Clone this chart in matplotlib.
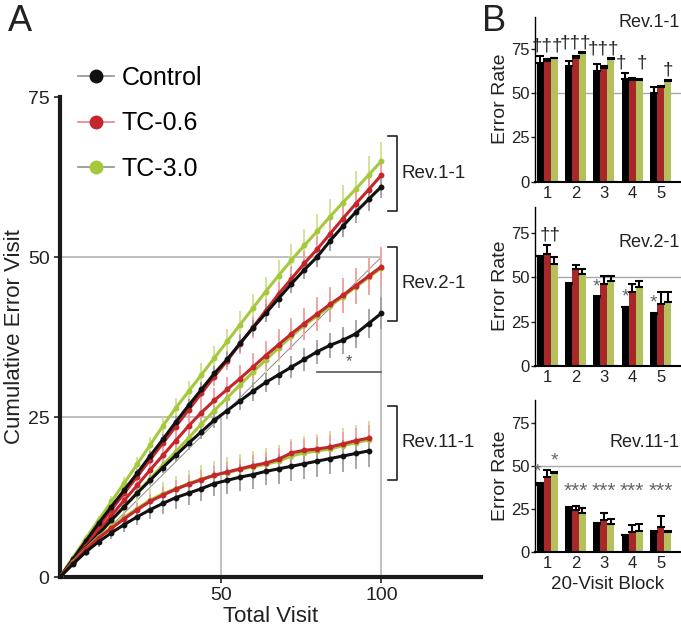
import numpy as np
import matplotlib
matplotlib.use('Agg')
import matplotlib.pyplot as plt
from matplotlib.lines import Line2D

plt.rcParams['font.family'] = ['Liberation Sans', 'DejaVu Sans']

#%% データ（パネルA：4訪問ごとの累積エラー数）
visit = [0, 4, 8, 12, 16, 20, 24, 28, 32, 36, 40, 44, 48, 52, 56, 60, 64, 68, 72, 76, 80, 84, 88, 92, 96, 100]
visit_11 = visit[:-1]

rev1_control = [0, 2.8, 5.6, 8.4, 11.0, 13.6, 16.2, 18.9, 21.5, 24.2, 26.8, 29.3, 31.8, 34.0, 36.5, 38.9,
                41.2, 43.5, 45.8, 48.0, 50.0, 52.5, 54.8, 57.0, 59.0, 61.0]
rev1_tc06 = [0, 2.6, 5.3, 7.9, 10.5, 13.1, 15.7, 18.3, 20.9, 23.5, 26.1, 28.7, 31.3, 33.8, 36.4, 39.0,
             41.6, 44.2, 46.6, 49.0, 51.2, 53.6, 56.0, 58.3, 60.5, 62.8]
rev1_tc30 = [0, 3.0, 6.0, 8.9, 11.8, 14.7, 17.6, 20.6, 23.6, 26.4, 29.0, 31.6, 34.2, 36.8, 39.4, 42.0,
             44.6, 47.1, 49.5, 51.8, 54.0, 56.3, 58.5, 60.6, 62.8, 65.0]
rev1_control_se = [0, 0.2, 0.3, 0.4, 0.5, 0.6, 0.7, 0.8, 0.9, 1.0, 1.0, 1.1, 1.2, 1.2, 1.3, 1.3, 1.4, 1.4, 1.5, 1.5,
                   1.6, 1.6, 1.7, 1.7, 1.8, 1.8]
rev1_tc06_se = [0, 0.2, 0.4, 0.5, 0.6, 0.7, 0.8, 0.9, 1.0, 1.1, 1.2, 1.3, 1.4, 1.5, 1.6, 1.7, 1.8, 1.9, 2.0, 2.0,
                2.1, 2.2, 2.2, 2.3, 2.3, 2.4]
rev1_tc30_se = [0, 0.3, 0.5, 0.7, 0.8, 1.0, 1.1, 1.3, 1.4, 1.5, 1.7, 1.8, 1.9, 2.0, 2.1, 2.2, 2.3, 2.4, 2.5, 2.6,
                2.7, 2.8, 2.8, 2.9, 3.0, 3.0]

rev2_control = [0, 2.3, 4.5, 6.7, 8.9, 11.0, 13.1, 15.1, 17.1, 19.0, 20.9, 22.7, 24.5, 26.0, 27.5, 29.0,
                30.4, 31.6, 32.8, 34.0, 35.2, 36.2, 37.0, 38.0, 39.6, 41.2]
rev2_tc06 = [0, 2.4, 4.8, 7.2, 9.6, 12.0, 14.3, 16.7, 19.0, 21.3, 23.6, 25.7, 27.6, 29.3, 31.0, 32.8,
             34.6, 36.3, 38.0, 39.6, 41.1, 42.6, 44.0, 45.5, 47.0, 48.5]
rev2_tc30 = [0, 2.2, 4.4, 6.6, 8.8, 11.0, 13.2, 15.3, 17.5, 19.6, 21.7, 23.9, 26.0, 28.0, 30.0, 32.0,
             33.9, 35.8, 37.6, 39.3, 40.8, 42.3, 43.8, 45.3, 46.8, 48.3]
rev2_control_se = [0, 0.2, 0.3, 0.4, 0.5, 0.6, 0.7, 0.8, 0.9, 1.0, 1.1, 1.1, 1.2, 1.3, 1.4, 1.5, 1.5, 1.6, 1.7, 1.8,
                   1.9, 2.0, 2.1, 2.2, 2.3, 2.5]
rev2_tc06_se = [0, 0.3, 0.5, 0.7, 0.9, 1.0, 1.2, 1.3, 1.5, 1.6, 1.7, 1.8, 1.9, 2.0, 2.1, 2.2, 2.3, 2.4, 2.5, 2.5,
                2.6, 2.7, 2.7, 2.8, 2.9, 3.0]
rev2_tc30_se = [0, 0.2, 0.4, 0.6, 0.7, 0.9, 1.0, 1.1, 1.3, 1.4, 1.5, 1.6, 1.7, 1.8, 1.9, 2.0, 2.1, 2.2, 2.2, 2.3,
                2.4, 2.4, 2.5, 2.6, 2.6, 2.7]

rev11_control = [0, 2.0, 3.9, 5.5, 6.9, 8.2, 9.4, 10.5, 11.5, 12.4, 13.1, 13.8, 14.6, 15.1, 15.6, 16.0,
                 16.5, 16.9, 17.3, 17.7, 18.1, 18.5, 18.9, 19.3, 19.7]
rev11_tc06 = [0, 2.2, 4.3, 6.1, 7.6, 9.1, 10.5, 11.8, 12.8, 13.7, 14.5, 15.2, 15.9, 16.4, 16.9, 17.4,
              17.8, 18.4, 19.4, 19.8, 20.0, 20.3, 20.8, 21.3, 21.7]
rev11_tc30 = [0, 2.3, 4.4, 6.3, 7.8, 9.3, 10.7, 12.0, 13.0, 13.8, 14.6, 15.3, 15.9, 16.3, 16.8, 17.2,
              17.6, 18.1, 18.9, 19.4, 19.7, 20.0, 20.5, 21.0, 21.4]
rev11_control_se = [0, 0.3, 0.6, 0.8, 1.0, 1.2, 1.3, 1.5, 1.6, 1.7, 1.8, 1.9, 2.0, 2.1, 2.1, 2.2, 2.2, 2.3, 2.3,
                    2.4, 2.4, 2.4, 2.5, 2.5, 2.5]
rev11_tc06_se = [0, 0.3, 0.5, 0.7, 0.9, 1.0, 1.1, 1.2, 1.3, 1.4, 1.4, 1.5, 1.5, 1.6, 1.6, 1.7, 1.7, 1.8, 1.8,
                 1.8, 1.9, 1.9, 1.9, 2.0, 2.0]
rev11_tc30_se = [0, 0.4, 0.7, 1.0, 1.2, 1.4, 1.6, 1.7, 1.9, 2.0, 2.1, 2.2, 2.3, 2.4, 2.4, 2.5, 2.5, 2.6, 2.6,
                 2.7, 2.7, 2.8, 2.8, 2.8, 2.9]

#%% データ（パネルB：20訪問ブロックごとのエラー率）
blocks = [1, 2, 3, 4, 5]

b1_control = [67, 65, 62.5, 58, 50]
b1_tc06 = [68, 70, 64, 57.5, 53.5]
b1_tc30 = [69.5, 72.5, 69, 57.5, 57]
b1_control_se = [4, 3, 4, 3.5, 3.5]
b1_tc06_se = [1, 1, 1, 1, 0.5]
b1_tc30_se = [0.5, 0.5, 0.5, 0.5, 0.5]

b2_control = [62, 46.5, 39, 33, 29.5]
b2_tc06 = [63.5, 54.5, 46, 42, 35]
b2_tc30 = [57.5, 52, 48, 44.5, 36]
b2_control_se = [0.3, 0.3, 0.3, 0.3, 0.3]
b2_tc06_se = [5, 2.5, 5, 4, 6.5]
b2_tc30_se = [4, 3, 3, 3.5, 5.5]

b11_control = [39, 26, 16.5, 10, 12]
b11_tc06 = [43.5, 24.5, 18.5, 12, 14.5]
b11_tc30 = [46, 23, 16.5, 12.5, 12]
b11_control_se = [1, 0.5, 0.3, 0.3, 0.3]
b11_tc06_se = [4.5, 2.5, 4.5, 4, 6.5]
b11_tc30_se = [0.5, 3, 3, 4, 0.3]

group_names = ['Control', 'TC-0.6', 'TC-3.0']

#%% 色
line_col = ['#111111', '#c4262c', '#a6c83c']
err_col = ['#a0a0a0', '#f2a0a0', '#cfe08f']
leg_line_col = ['#909090', '#f08080', '#909090']
bar_col = ['#000000', '#a8282a', '#b4c05c']
grid_col = '#b4b4b4'

fig = plt.figure(figsize=(6.81, 6.30), dpi=100)

#%% パネルA
ax = fig.add_axes([60 / 681, 53 / 630, 421 / 681, 480 / 630])

panel_a = [
    (visit, [rev1_control, rev1_tc06, rev1_tc30], [rev1_control_se, rev1_tc06_se, rev1_tc30_se]),
    (visit, [rev2_control, rev2_tc06, rev2_tc30], [rev2_control_se, rev2_tc06_se, rev2_tc30_se]),
    (visit_11, [rev11_control, rev11_tc06, rev11_tc30], [rev11_control_se, rev11_tc06_se, rev11_tc30_se]),
]

# 補助線
ax.plot([0, 50], [25, 25], color=grid_col, lw=1.2, zorder=0)
ax.plot([50, 50], [0, 25], color=grid_col, lw=1.2, zorder=0)
ax.plot([0, 100], [50, 50], color=grid_col, lw=1.2, zorder=0)
ax.plot([100, 100], [0, 50], color=grid_col, lw=1.2, zorder=0)
ax.plot([0, 100], [0, 50], color='#8c8c8c', lw=0.7, zorder=0)

for xs, ys, ses in panel_a:
    for k in [2, 1, 0]:
        ax.errorbar(xs, ys[k], yerr=ses[k], fmt='none', ecolor=err_col[k], elinewidth=1.3,
                    capsize=0, zorder=1)
for xs, ys, ses in panel_a:
    for k in [2, 1, 0]:
        ax.plot(xs, ys[k], color=line_col[k], lw=2.2, marker='o', ms=3.2, zorder=3)

# 有意差
ax.plot([80, 100], [32.1, 32.1], color='#555555', lw=1.2)
ax.text(90, 32.5, '*', ha='center', va='bottom', fontsize=12, color='#555555')

# ブラケット
brackets = [('Rev.1-1', 57.2, 68.9), ('Rev.2-1', 40.0, 51.6), ('Rev.11-1', 15.2, 26.7)]
for name, lo, hi in brackets:
    ax.plot([102.2, 105, 105, 102.2], [hi, hi, lo, lo], color='#222222', lw=1.2, clip_on=False)
    ax.text(106.2, (lo + hi) / 2, name, ha='left', va='center', fontsize=13.5, color='#222222')

ax.set_xlim(0, 131)
ax.set_ylim(0, 75)
ax.set_xticks([50, 100])
ax.set_yticks([0, 25, 50, 75])
ax.tick_params(labelsize=14, length=4, width=1.2, colors='#222222')
for s in ['top', 'right']:
    ax.spines[s].set_visible(False)
for s in ['left', 'bottom']:
    ax.spines[s].set_linewidth(3)
    ax.spines[s].set_color('#1a1a1a')
ax.set_xlabel('Total Visit', fontsize=16, color='#222222', labelpad=1)
ax.set_ylabel('Cumulative Error Visit', fontsize=16, color='#222222', labelpad=2)

handles = [Line2D([], [], color=leg_line_col[k], lw=1.2, marker='o', ms=9,
                  mfc=line_col[k], mec=line_col[k]) for k in range(3)]
fig.legend(handles, group_names, loc='upper left', bbox_to_anchor=(78 / 681, 1 - 66 / 630),
           frameon=False, fontsize=18, handlelength=1.45, handletextpad=0.3, labelspacing=0.85,
           borderpad=0, borderaxespad=0)

fig.text(8 / 681, 1 - 4 / 630, 'A', fontsize=26, ha='left', va='top', color='#222222')
fig.text(482 / 681, 1 - 4 / 630, 'B', fontsize=26, ha='left', va='top', color='#222222')

#%% パネルB
panel_b = [
    ('Rev.1-1', [b1_control, b1_tc06, b1_tc30], [b1_control_se, b1_tc06_se, b1_tc30_se],
     [535, 181.7, 16.7], 93, 90),
    ('Rev.2-1', [b2_control, b2_tc06, b2_tc30], [b2_control_se, b2_tc06_se, b2_tc30_se],
     [535, 365.7, 206.7], 90, 70),
    ('Rev.11-1', [b11_control, b11_tc06, b11_tc30], [b11_control_se, b11_tc06_se, b11_tc30_se],
     [535, 552.3, 400.0], 88.5, 64),
]

width = 0.245
bx = np.array(blocks)
axes_b = []
for name, vals, ses, (px, py0, py1), ytop, ty in panel_b:
    axb = fig.add_axes([px / 681, 1 - py0 / 630, 146 / 681, (py0 - py1) / 630])
    axb.axhline(50, color='#a8a8a8', lw=1, zorder=0)
    for k in range(3):
        axb.bar(bx + (k - 1) * width, vals[k], width, color=bar_col[k], zorder=2)
        axb.errorbar(bx + (k - 1) * width, vals[k], yerr=[np.zeros(5), ses[k]], fmt='none',
                     ecolor='black', elinewidth=1.5, capsize=3, capthick=1.5, zorder=3)
    axb.set_xlim(0.57, 5.72)
    axb.set_ylim(0, ytop)
    axb.set_xticks(blocks)
    axb.set_yticks([0, 25, 50, 75])
    axb.tick_params(axis='y', labelsize=12, length=3, width=1, pad=1, colors='#222222')
    axb.tick_params(axis='x', labelsize=12, length=0, pad=3, colors='#222222')
    for s in ['top', 'right']:
        axb.spines[s].set_visible(False)
    axb.spines['left'].set_linewidth(1)
    axb.spines['bottom'].set_linewidth(1.5)
    axb.set_ylabel('Error Rate', fontsize=14, color='#222222', labelpad=1)
    axb.text(5.68, ty, name, ha='right', va='center', fontsize=13, color='#222222')
    axes_b.append(axb)

axes_b[2].set_xlabel('20-Visit Block', fontsize=13.5, color='#222222', labelpad=3)

# 有意差マーク（グループごとに1つの文字列）
ax1, ax2, ax3 = axes_b
dagger_marks = ['\u2020\u2020\u2020', '\u2020\u2020\u2020', '\u2020\u2020\u2020', '\u2020  \u2020', '\u2020']
dagger_shift = [0, 0, 0, 0, width]
for i in range(5):
    top = max(b1_control[i] + b1_control_se[i], b1_tc06[i] + b1_tc06_se[i], b1_tc30[i] + b1_tc30_se[i])
    ax1.text(bx[i] + dagger_shift[i], top + 0.5, dagger_marks[i], ha='center', va='bottom',
             fontsize=13.5, color='#222222')

ax2.text(bx[0] + width / 2, b2_tc06[0] + b2_tc06_se[0] + 0.5, '\u2020\u2020', ha='center',
         va='bottom', fontsize=13.5, color='#222222')
for i in [2, 3, 4]:
    ax2.text(bx[i] - width, b2_control[i] + 1, '*', ha='center', va='bottom', fontsize=14,
             color='#666666')

ax3.text(bx[0] - width * 1.4, b11_control[0] + 3, '*', ha='center', va='bottom', fontsize=14,
         color='#666666')
ax3.text(bx[0] + width, b11_tc30[0] + 2, '*', ha='center', va='bottom', fontsize=14,
         color='#666666')
for i in [1, 2, 3, 4]:
    ax3.text(bx[i], 30, '***', ha='center', va='bottom', fontsize=15, color='#666666')

fig.savefig('out.png', dpi=100)
